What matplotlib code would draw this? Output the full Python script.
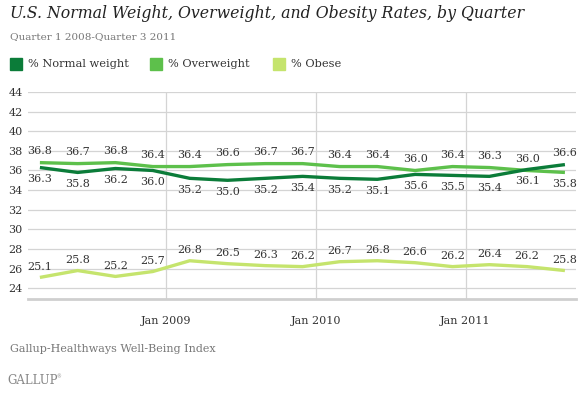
"""Gallup weight classes by quarter, 2008-2011."""
import pandas as pd
import matplotlib.pyplot as plt
import matplotlib.dates as mdates
from matplotlib.patches import Rectangle

# one point per quarter, Q1 2008 .. Q3 2011
quarter_dates = ["2008-02-29", "2008-05-31", "2008-08-31", "2008-11-30",
                 "2009-02-28", "2009-05-31", "2009-08-31", "2009-11-30",
                 "2010-02-28", "2010-05-31", "2010-08-31", "2010-11-30",
                 "2011-02-28", "2011-05-31", "2011-08-31"]
normal_weight = [36.3, 35.8, 36.2, 36.0, 35.2, 35.0, 35.2, 35.4,
                 35.2, 35.1, 35.6, 35.5, 35.4, 36.1, 36.6]
overweight = [36.8, 36.7, 36.8, 36.4, 36.4, 36.6, 36.7, 36.7,
              36.4, 36.4, 36.0, 36.4, 36.3, 36.0, 35.8]
obese = [25.1, 25.8, 25.2, 25.7, 26.8, 26.5, 26.3, 26.2,
         26.7, 26.8, 26.6, 26.2, 26.4, 26.2, 25.8]
series_names = ["% Normal weight", "% Overweight", "% Obese"]
year_ticks = ["2009-01-01", "2010-01-01", "2011-01-01"]
y_ticks = list(range(24, 45, 2))

COLORS = ["#0b7c39", "#5dc04b", "#c5e46d"]
SERIF = "DejaVu Serif"
TEXT = "#333333"
GREY = "#777777"
W, H = 584, 394

dates = pd.to_datetime(quarter_dates)

fig = plt.figure(figsize=(W / 100, H / 100), dpi=100)
ax = fig.add_axes([28 / W, 1 - 299 / H, (576 - 28) / W, (299 - 92) / H])

# gridlines
for y in y_ticks:
    ax.axhline(y, color="#d4d4d4", lw=0.9, zorder=0)
for d in pd.to_datetime(year_ticks):
    ax.axvline(d, color="#d4d4d4", lw=0.9, zorder=0)

ax.plot(dates, normal_weight, color=COLORS[0], lw=2.4, solid_capstyle="butt", zorder=3)
ax.plot(dates, overweight, color=COLORS[1], lw=2.4, solid_capstyle="butt", zorder=2)
ax.plot(dates, obese, color=COLORS[2], lw=2.4, solid_capstyle="butt", zorder=2)

# value labels: the higher of normal/overweight above, the other below
n = len(dates)
for i, d in enumerate(dates):
    last = i == n - 1
    up_n = 8.5 if last else -8.5
    ax.annotate(f"{normal_weight[i]:.1f}", (d, normal_weight[i]), xytext=(0, up_n),
                textcoords="offset points", ha="center", va="center",
                fontsize=8, family=SERIF, color=TEXT)
    ax.annotate(f"{overweight[i]:.1f}", (d, overweight[i]), xytext=(0, -up_n),
                textcoords="offset points", ha="center", va="center",
                fontsize=8, family=SERIF, color=TEXT)
    ax.annotate(f"{obese[i]:.1f}", (d, obese[i]), xytext=(0, 7.5),
                textcoords="offset points", ha="center", va="center",
                fontsize=8, family=SERIF, color=TEXT)

ax.set_ylim(22.9, 44)
ax.set_xlim(pd.Timestamp("2008-01-31"), pd.Timestamp("2011-09-27"))
ax.set_yticks(y_ticks)
ax.set_xticks(pd.to_datetime(year_ticks))
ax.xaxis.set_major_formatter(mdates.DateFormatter("Jan %Y"))
ax.tick_params(length=0, labelsize=8, colors=TEXT)
ax.tick_params(axis="y", pad=4)
ax.tick_params(axis="x", pad=12)
for lab in ax.get_xticklabels() + ax.get_yticklabels():
    lab.set_family(SERIF)
for s in ["top", "right", "left"]:
    ax.spines[s].set_visible(False)
ax.spines["bottom"].set_color("#cfcfcf")
ax.spines["bottom"].set_linewidth(2)

# header
fig.text(10 / W, 1 - 14 / H, "U.S. Normal Weight, Overweight, and Obesity Rates, by Quarter",
         family=SERIF, style="italic", fontsize=11.3, color="#222222", va="center")
fig.text(10 / W, 1 - 37 / H, "Quarter 1 2008-Quarter 3 2011",
         family=SERIF, fontsize=7.5, color=GREY, va="center")

# legend
legend_x = [10, 150, 273]
for x0, name, col in zip(legend_x, series_names, COLORS):
    fig.patches.append(Rectangle((x0 / W, 1 - 70 / H), 12 / W, 12 / H,
                                 transform=fig.transFigure, color=col))
    fig.text((x0 + 18) / W, 1 - 64 / H, name, family=SERIF, fontsize=8.2,
             color=TEXT, va="center")

# footer
fig.text(10 / W, 1 - 349 / H, "Gallup-Healthways Well-Being Index",
         family=SERIF, fontsize=8, color=GREY, va="center")
fig.text(7 / W, 1 - 381 / H, "GALLUP", family=SERIF, fontsize=8.5,
         color="#888888", va="center")
fig.text(56 / W, 1 - 377 / H, "\u00ae", family=SERIF, fontsize=3.5,
         color="#888888", va="center")

fig.savefig("out.png", dpi=100)
